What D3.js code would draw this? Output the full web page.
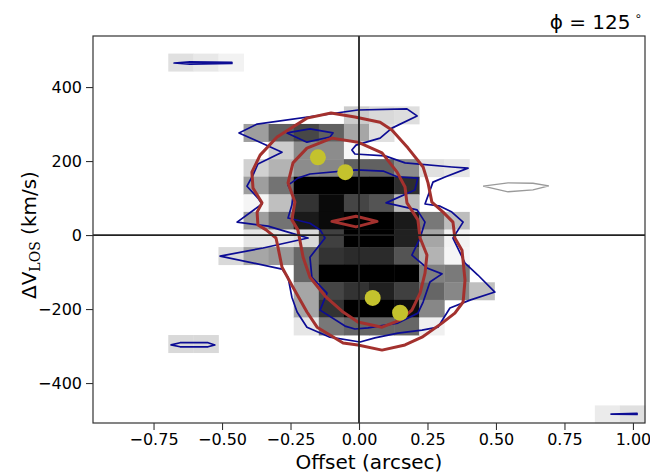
<!DOCTYPE html>
<html>
<head>
<meta charset="utf-8">
<script src="https://cdn.jsdelivr.net/npm/d3@7"></script>
<style>
  body { margin: 0; background: #fff; }
  text { font-family: "DejaVu Sans", sans-serif; fill: #000; }
</style>
</head>
<body>
<div id="pv"></div>
<script>
// axis ranges and ticks
const offsetExtent = [-0.971, 1.044]
const velExtent = [-508, 538]
const xTicks = [-0.75, -0.5, -0.25, 0, 0.25, 0.5, 0.75, 1.0]
const yTicks = [-400, -200, 0, 200, 400]

// p-v map, 22 x 22 cells, first row = highest velocity; 0 empty .. 1 darkest
const fluxRows = [
  [0,0,0,0,0,0,0,0,0,0,0,0,0,0,0,0,0,0,0,0,0,0],
  [0,0,0,.12,.09,.05,0,0,0,0,0,0,0,0,0,0,0,0,0,0,0,0],
  [0,0,0,0,0,0,0,0,0,0,0,0,0,0,0,0,0,0,0,0,0,0],
  [0,0,0,0,0,0,0,0,0,0,0,0,0,0,0,0,0,0,0,0,0,0],
  [0,0,0,0,0,0,0,0,0,0,.2,.15,.13,0,0,0,0,0,0,0,0,0],
  [0,0,0,0,0,0,.38,.62,.72,.62,.35,.12,0,0,0,0,0,0,0,0,0,0],
  [0,0,0,0,0,0,0,.2,.45,.45,.03,0,0,0,0,0,0,0,0,0,0,0],
  [0,0,0,0,0,0,.18,.3,.45,.47,.62,.62,.45,.12,.1,0,0,0,0,0,0,0],
  [0,0,0,0,0,0,.38,.55,1,1,1,1,.82,0,0,0,0,0,0,0,0,0],
  [0,0,0,0,0,0,.04,.25,.8,.96,.73,.67,.27,0,0,0,0,0,0,0,0,0],
  [0,0,0,0,0,0,.38,.55,.9,.96,1,1,.9,.53,.26,0,0,0,0,0,0,0],
  [0,0,0,0,0,0,.1,.1,.15,.75,1,1,.87,.35,.05,0,0,0,0,0,0,0],
  [0,0,0,0,0,.15,.35,.4,.6,.8,.83,.83,.67,.3,.04,0,0,0,0,0,0,0],
  [0,0,0,0,0,0,0,0,.6,1,1,1,1,.5,.52,0,0,0,0,0,0,0],
  [0,0,0,0,0,0,0,0,.35,.73,.8,.87,.75,.6,.47,.25,0,0,0,0,0,0],
  [0,0,0,0,0,0,0,0,.35,.8,1,1,.95,.47,0,0,0,0,0,0,0,0],
  [0,0,0,0,0,0,0,0,.1,.53,.6,.6,.6,.06,0,0,0,0,0,0,0,0],
  [0,0,0,.15,.15,0,0,0,0,0,0,0,0,0,0,0,0,0,0,0,0,0],
  [0,0,0,0,0,0,0,0,0,0,0,0,0,0,0,0,0,0,0,0,0,0],
  [0,0,0,0,0,0,0,0,0,0,0,0,0,0,0,0,0,0,0,0,0,0],
  [0,0,0,0,0,0,0,0,0,0,0,0,0,0,0,0,0,0,0,0,0,0],
  [0,0,0,0,0,0,0,0,0,0,0,0,0,0,0,0,0,0,0,0,.08,.12]
]

// data contours, [offset, velocity]
const dataOuter = [[-0.004,338],[-0.372,300],[-0.438,276],[-0.380,257],[-0.281,224],[-0.369,192],
  [-0.387,162],[-0.409,132],[-0.369,100],[-0.354,84],[-0.445,35],[-0.332,24],[-0.259,8],[-0.186,-8],
  [-0.350,-35],[-0.507,-57],[-0.281,-92],[-0.259,-114],[-0.245,-168],[-0.226,-208],[-0.190,-249],
  [-0.106,-276],[0.004,-289],[0.058,-278],[0.142,-265],[0.230,-257],[0.288,-249],[0.332,-197],
  [0.405,-176],[0.496,-154],[0.434,-108],[0.387,-76],[0.343,-8],[0.380,35],[0.339,62],[0.296,78],
  [0.241,84],[0.270,143],[0.314,157],[0.398,181],[0.339,184],[0.168,195],[0.095,214],[-0.015,219],
  [-0.026,230],[-0.011,243],[0.077,262],[0.120,289],[0.212,322],[0.175,341]]
const dataInner = [[-0.011,176],[0.088,173],[0.142,157],[0.215,154],[0.204,122],[0.099,87],
  [0.212,68],[0.241,35],[0.223,-8],[0.193,-54],[0.248,-89],[0.303,-105],[0.259,-127],[0.234,-181],
  [0.215,-211],[0.142,-238],[0.033,-251],[-0.015,-254],[-0.051,-246],[-0.142,-203],[-0.117,-157],
  [-0.172,-114],[-0.179,-60],[-0.124,-8],[-0.142,14],[-0.179,32],[-0.259,46],[-0.245,81],
  [-0.241,108],[-0.259,135],[-0.223,154],[-0.179,165]]
const dataTopKnot = [[-0.263,276],[-0.179,287],[-0.095,276],[-0.106,265],[-0.190,251]]
const dataTopLeft = [[-0.675,465],[-0.617,468],[-0.464,467],[-0.464,464],[-0.617,462]]
const dataBottomLeft = [[-0.686,-297],[-0.653,-291],[-0.551,-291],[-0.526,-297],[-0.551,-302],[-0.653,-302]]
const dataBottomRight = [[0.920,-484],[1.015,-482],[1.015,-485]]
const grayLoop = [[0.453,132],[0.544,141],[0.635,140],[0.693,133],[0.635,122],[0.544,117]]

// model contours
const modelOuter = [[-0.102,330],[-0.015,319],[0.077,305],[0.120,284],[0.179,235],[0.234,184],
  [0.252,141],[0.266,89],[0.307,62],[0.343,35],[0.350,-8],[0.376,-41],[0.387,-122],[0.380,-181],
  [0.350,-211],[0.303,-238],[0.230,-276],[0.168,-297],[0.084,-311],[-0.004,-297],[-0.058,-292],
  [-0.153,-249],[-0.190,-208],[-0.241,-141],[-0.281,-87],[-0.296,-32],[-0.303,-8],[-0.339,14],
  [-0.369,27],[-0.372,62],[-0.354,87],[-0.387,127],[-0.391,170],[-0.361,216],[-0.299,265],[-0.190,316]]
const modelInner = [[-0.099,262],[-0.004,251],[0.084,222],[0.139,170],[0.168,130],[0.175,87],
  [0.215,41],[0.223,-8],[0.248,-54],[0.241,-103],[0.223,-157],[0.193,-203],[0.150,-230],
  [0.084,-249],[-0.004,-235],[-0.058,-208],[-0.120,-168],[-0.179,-114],[-0.204,-60],[-0.223,14],
  [-0.245,41],[-0.234,89],[-0.259,141],[-0.241,195],[-0.190,235]]
const modelCore = [[-0.099,37],[-0.011,51],[0.066,37],[-0.011,22]]

// peak positions
const peakOffsets = [-0.15, -0.05, 0.05, 0.15]
const peakVels = [210, 170, -170, -210]

const margin = {top: 36, right: 5, bottom: 50, left: 93},
    width = 650 - margin.left - margin.right,
    height = 473 - margin.top - margin.bottom

let x = d3.scaleLinear().domain(offsetExtent).range([0, width])
let y = d3.scaleLinear().domain(velExtent).range([height, 0])
let grey = d3.scaleLinear().domain([0, 1]).range(["#ffffff", "#000000"])

let svg = d3.select('#pv').append('svg')
    .attr("width", 650)
    .attr("height", 473)

let g = svg.append("g")
    .attr("transform", "translate(" + margin.left + "," + margin.top + ")")

// cells
let nRows = fluxRows.length, nCols = fluxRows[0].length
let dOff = (offsetExtent[1] - offsetExtent[0]) / nCols
let dVel = (velExtent[1] - velExtent[0]) / nRows
let cells = []
fluxRows.forEach((row, r) => row.forEach((v, c) => {
  if (v > 0) cells.push({r: r, c: c, v: v})
}))

g.append("g").selectAll("rect")
  .data(cells)
  .join("rect")
    .attr("x", d => x(offsetExtent[0] + d.c * dOff))
    .attr("y", d => y(velExtent[1] - d.r * dVel))
    .attr("width", d => x(offsetExtent[0] + (d.c + 1) * dOff) - x(offsetExtent[0] + d.c * dOff) + 0.4)
    .attr("height", d => y(velExtent[1] - (d.r + 1) * dVel) - y(velExtent[1] - d.r * dVel) + 0.4)
    .attr("fill", d => grey(d.v))

let loop = d3.line()
    .x(d => x(d[0]))
    .y(d => y(d[1]))
    .curve(d3.curveLinearClosed)

// data contours in blue
let blue = [dataOuter, dataInner, dataTopKnot, dataTopLeft, dataBottomLeft, dataBottomRight]
g.append("g").selectAll("path")
  .data(blue)
  .join("path")
    .attr("d", loop)
    .attr("fill", "none")
    .attr("stroke", "#0c0c94")
    .attr("stroke-width", 1.7)
    .attr("stroke-linejoin", "round")

g.append("path")
    .datum(grayLoop)
    .attr("d", loop)
    .attr("fill", "none")
    .attr("stroke", "#9a9a9a")
    .attr("stroke-width", 1.3)

// model contours
g.append("g").selectAll("path")
  .data([modelOuter, modelInner, modelCore])
  .join("path")
    .attr("d", loop)
    .attr("fill", "none")
    .attr("stroke", "#a3312e")
    .attr("stroke-width", 3)
    .attr("stroke-linejoin", "round")

// peaks
g.append("g").selectAll("circle")
  .data(peakOffsets)
  .join("circle")
    .attr("cx", d => x(d))
    .attr("cy", (d, i) => y(peakVels[i]))
    .attr("r", 8)
    .attr("fill", "#c4c22d")

// zero lines
g.append("line")
    .attr("x1", x(0)).attr("x2", x(0))
    .attr("y1", 0).attr("y2", height)
    .attr("stroke", "#222").attr("stroke-width", 1.8)
g.append("line")
    .attr("x1", 0).attr("x2", width)
    .attr("y1", y(0)).attr("y2", y(0))
    .attr("stroke", "#222").attr("stroke-width", 1.8)

// frame
g.append("rect")
    .attr("width", width)
    .attr("height", height)
    .attr("fill", "none")
    .attr("stroke", "#333")
    .attr("stroke-width", 1.2)

// axes
let xAxis = g.append("g")
    .attr("transform", "translate(0," + height + ")")
    .call(d3.axisBottom(x).tickValues(xTicks).tickFormat(d3.format(".2f")).tickSize(7).tickPadding(4))
let yAxis = g.append("g")
    .call(d3.axisLeft(y).tickValues(yTicks).tickFormat(d3.format("d")).tickSize(7).tickPadding(4))
;[xAxis, yAxis].forEach(a => {
  a.select(".domain").remove()
  a.selectAll("line").attr("stroke", "#333").attr("stroke-width", 1.1)
  a.selectAll("text").attr("font-size", 16).attr("font-family", "DejaVu Sans").attr("fill", "#000")
})

// labels
svg.append("text")
    .attr("x", margin.left + width / 2)
    .attr("y", 469)
    .attr("text-anchor", "middle")
    .attr("font-size", 20)
    .text("Offset (arcsec)")

let yl = svg.append("text")
    .attr("transform", "translate(36," + (margin.top + y(0)) + ") rotate(-90)")
    .attr("text-anchor", "middle")
    .attr("font-size", 20)
yl.append("tspan").text("ΔV")
yl.append("tspan").attr("font-family", "DejaVu Serif").attr("font-size", 14).attr("dy", 4).text("LOS")
yl.append("tspan").attr("dy", -4).text(" (km/s)")

let title = svg.append("text")
    .attr("x", 642)
    .attr("y", 29)
    .attr("text-anchor", "end")
    .attr("font-size", 20)
title.append("tspan").text("ϕ = 125")
title.append("tspan").attr("font-size", 12).attr("dy", -9).attr("dx", 4).text("∘")
</script>
</body>
</html>
